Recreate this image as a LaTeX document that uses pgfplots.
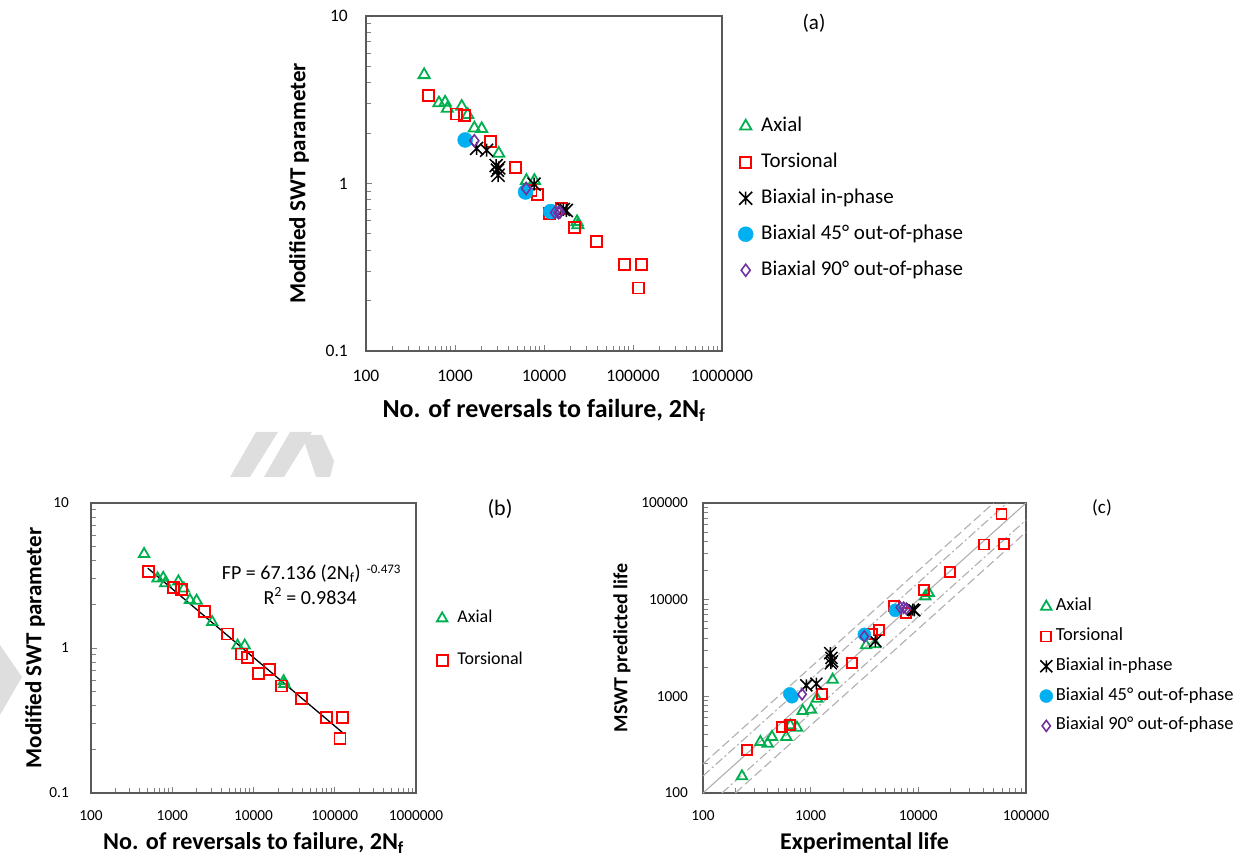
\documentclass[border=0pt]{standalone}
\usepackage{pgfplots}
\pgfplotsset{compat=1.18}
\usepackage{fontspec}
\setmainfont{Carlito}
\usetikzlibrary{plotmarks}

\definecolor{axgreen}{RGB}{0,176,80}
\definecolor{torred}{RGB}{255,0,0}
\definecolor{bxblue}{RGB}{0,176,240}
\definecolor{bxpurple}{RGB}{112,48,160}
\definecolor{framegray}{RGB}{89,89,89}
\definecolor{tickgray}{RGB}{128,128,128}
\definecolor{guidegray}{RGB}{175,175,175}
\definecolor{wmgray}{RGB}{222,222,222}

% Excel-style star: an x with a vertical stroke
\pgfdeclareplotmark{xstar}{%
  \pgfpathmoveto{\pgfqpoint{-\pgfplotmarksize}{-\pgfplotmarksize}}%
  \pgfpathlineto{\pgfqpoint{\pgfplotmarksize}{\pgfplotmarksize}}%
  \pgfpathmoveto{\pgfqpoint{-\pgfplotmarksize}{\pgfplotmarksize}}%
  \pgfpathlineto{\pgfqpoint{\pgfplotmarksize}{-\pgfplotmarksize}}%
  \pgfpathmoveto{\pgfqpoint{0pt}{-\pgfplotmarksize}}%
  \pgfpathlineto{\pgfqpoint{0pt}{\pgfplotmarksize}}%
  \pgfusepathqstroke}

\pgfplotsset{
  only mark legend/.style={legend image code/.code={%
    \draw[mark repeat=2,mark phase=2,##1] plot coordinates {(0pt,0pt) (7pt,0pt) (14pt,0pt)};}},
  myframe/.style={
    scale only axis,
    axis line style={framegray, line width=1.2pt},
    tick style={tickgray, line width=0.9pt},
    major tick length=6pt, minor tick length=5pt,
    tick align=inside, xtick pos=bottom, ytick pos=left,
    clip=false,
  },
  lifeaxis/.style={
    xmin=100, xmax=1000000, ymin=0.1, ymax=10,
    xtick={100,1000,10000,100000,1000000},
    xticklabels={100,1000,10000,100000,1000000},
    minor xtick={200,300,400,500,600,700,800,900,2000,3000,4000,5000,6000,7000,8000,9000,20000,30000,40000,50000,60000,70000,80000,90000,200000,300000,400000,500000,600000,700000,800000,900000},
    ytick={0.1,1,10}, yticklabels={0.1,1,10},
    minor ytick={0.2,0.3,0.4,0.5,0.6,0.7,0.8,0.9,2,3,4,5,6,7,8,9},
  },
  axialS/.style={only marks, color=axgreen, mark=triangle, mark size=#1,
    mark options={draw=axgreen, fill=none, line width=1.8pt}},
  torS/.style={only marks, color=torred, mark=square, mark size=#1,
    mark options={draw=torred, fill=none, line width=1.8pt}},
  inphS/.style={only marks, color=black, mark=xstar, mark size=#1,
    mark options={draw=black, line width=1.5pt}},
  bfS/.style={only marks, color=bxblue, mark=*, mark size=#1,
    mark options={draw=bxblue, fill=bxblue}},
  bnS/.style={only marks, color=bxpurple, mark=diamond, mark size=#1,
    mark options={draw=bxpurple, fill=none, line width=1.6pt}},
}

% ---------- data: modified SWT parameter vs reversals ----------
\pgfplotstableread{
N     P
450   4.45
660   3.02
775   3.05
820   2.80
1190  2.88
1390  2.57
1650  2.14
1995  2.12
3100  1.51
6350  1.04
7800  1.04
23500 0.59
24000 0.565
}\axialSWT
\pgfplotstableread{
N      P
505    3.36
1040   2.60
1285   2.54
2480   1.79
4750   1.25
7160   0.91
8450   0.855
11600  0.665
15700  0.71
22000  0.547
39100  0.45
80000  0.33
125000 0.33
116000 0.238
}\torSWT
\pgfplotstableread{
N     P
1750  1.62
2270  1.58
2900  1.28
3000  1.20
3050  1.12
3100  1.24
7730  0.99
16500 0.70
17800 0.69
}\inphSWT
\pgfplotstableread{
N     P
1300  1.82
6200  0.89
11900 0.68
}\bfSWT
\pgfplotstableread{
N     P
1650  1.80
6300  0.935
13300 0.67
14500 0.67
15100 0.675
}\bnSWT

% ---------- data: predicted vs experimental life ----------
\pgfplotstableread{
E     M
230   149
341   337
398   324
437   380
594   380
647   501
746   474
843   705
1007  727
1145  946
1600  1486
3266  3371
3985  3450
11600 10810
12500 11720
}\axialLife
\pgfplotstableread{
E     M
256   281
542   482
638   509
1274  1049
2419  2213
3700  4450
4344  4900
5900  8530
7740  7280
11220 12680
19800 19300
40400 37300
59300 76700
62400 37600
}\torLife
\pgfplotstableread{
E    M
912  1300
1130 1352
1520 2800
1560 2500
1580 2300
1540 2200
3985 3730
9180 7760
8900 7900
}\inphLife
\pgfplotstableread{
E    M
640  1060
670  990
3150 4375
6110 7760
}\bfLife
\pgfplotstableread{
E    M
832  1050
3150 4170
6800 8300
7310 8260
7740 8070
}\bnLife

\begin{document}
\begin{tikzpicture}[x=1pt,y=1pt]
\useasboundingbox (0,0) rectangle (1238,857);

% faint watermark fragments
\fill[wmgray] (256,425) -- (278,425) -- (250,380) -- (230,380) -- cycle;
\fill[wmgray] (290,425) -- (312,425) -- (284,380) -- (264,380) -- cycle;
\fill[wmgray] (302,422) -- (322,422) -- (334,396) -- (330,380) -- (316,380) -- cycle;
\fill[wmgray] (0,212) -- (22,180) -- (0,142) -- cycle;

% ================= (a) =================
\begin{axis}[xmode=log, ymode=log, myframe, lifeaxis,
  at={(366pt,506pt)}, anchor=south west, width=356pt, height=335pt,
  xticklabel style={font=\fontsize{17.5}{21}\selectfont, inner sep=0pt, anchor=north, yshift=-19pt},
  yticklabel style={font=\fontsize{17.5}{21}\selectfont, inner sep=0pt, anchor=east, xshift=-18pt},
  xlabel={No. of reversals to failure, 2N\textsubscript{f}},
  ylabel={Modified SWT parameter},
  xlabel style={font=\fontsize{26}{30}\bfseries, at={(axis description cs:0.5,-0.176)}, anchor=center},
  ylabel style={font=\fontsize{23}{27}\bfseries, at={(axis description cs:-0.188,0.5)}, anchor=center},
  legend style={at={(axis description cs:1.045,0.456)}, anchor=west, draw=none, fill=none,
    inner sep=0pt, font=\fontsize{21}{25}\selectfont, row sep=18pt, column sep=8pt,
    nodes={inner sep=0pt, text height=14pt, text depth=4pt}},
  legend cell align=left,
]
\addplot[axialS=6.5pt] table[x=N,y=P] {\axialSWT};
\addlegendentry{Axial}
\addplot[torS=5.5pt] table[x=N,y=P] {\torSWT};
\addlegendentry{Torsional}
\addplot[inphS=6.5pt] table[x=N,y=P] {\inphSWT};
\addlegendentry{Biaxial in-phase}
\addplot[bfS=7.5pt] table[x=N,y=P] {\bfSWT};
\addlegendentry{Biaxial 45° out-of-phase}
\addplot[bnS=6pt] table[x=N,y=P] {\bnSWT};
\addlegendentry{Biaxial 90° out-of-phase}
\end{axis}
\node[font=\fontsize{21}{25}\selectfont] at (814,834) {(a)};

% ================= (b) =================
\begin{axis}[xmode=log, ymode=log, myframe, lifeaxis,
  at={(91pt,64pt)}, anchor=south west, width=325pt, height=290pt,
  xticklabel style={font=\fontsize{15.3}{18}\selectfont, inner sep=0pt, anchor=north, yshift=-17pt},
  yticklabel style={font=\fontsize{15.3}{18}\selectfont, inner sep=0pt, anchor=east, xshift=-22pt},
  xlabel={No. of reversals to failure, 2N\textsubscript{f}},
  ylabel={Modified SWT parameter},
  xlabel style={font=\fontsize{24.2}{28}\bfseries, at={(axis description cs:0.5,-0.172)}, anchor=center},
  ylabel style={font=\fontsize{23}{27}\bfseries, at={(axis description cs:-0.172,0.5)}, anchor=center},
  legend style={at={(axis description cs:1.063,0.529)}, anchor=west, draw=none, fill=none,
    inner sep=0pt, font=\fontsize{18}{22}\selectfont, row sep=26.4pt, column sep=9.7pt,
    nodes={inner sep=0pt, text height=12pt, text depth=4pt}},
  legend cell align=left,
]
\addplot[axialS=6pt] table[x=N,y=P] {\axialSWT};
\addlegendentry{Axial}
\addplot[torS=5.5pt] table[x=N,y=P] {\torSWT};
\addlegendentry{Torsional}
% power-law fit FP = 67.136 (2Nf)^-0.473
\addplot[black, line width=1.3pt, forget plot] coordinates {(500,3.551) (125000,0.2607)};
\end{axis}
\node[font=\fontsize{20}{24}\selectfont, inner sep=0pt, anchor=base west] at (221.7,277.7) {FP = 67.136 (2N\textsubscript{f})};
\node[font=\fontsize{13}{15}\selectfont, inner sep=0pt, anchor=base west] at (366.7,283.7) {-0.473};
\node[font=\fontsize{20}{24}\selectfont, inner sep=0pt, anchor=base west] at (263.3,253) {R\textsuperscript{2} = 0.9834};
\node[font=\fontsize{22}{26}\selectfont] at (500,348) {(b)};

% ================= (c) =================
\begin{axis}[xmode=log, ymode=log, myframe,
  at={(703pt,64pt)}, anchor=south west, width=323pt, height=290pt,
  xmin=100, xmax=100000, ymin=100, ymax=100000,
  xtick={100,1000,10000,100000}, xticklabels={100,1000,10000,100000},
  ytick={100,1000,10000,100000}, yticklabels={100,1000,10000,100000},
  minor xtick={200,300,400,500,600,700,800,900,2000,3000,4000,5000,6000,7000,8000,9000,20000,30000,40000,50000,60000,70000,80000,90000},
  minor ytick={200,300,400,500,600,700,800,900,2000,3000,4000,5000,6000,7000,8000,9000,20000,30000,40000,50000,60000,70000,80000,90000},
  xticklabel style={font=\fontsize{15.3}{18}\selectfont, inner sep=0pt, anchor=north, yshift=-17pt},
  yticklabel style={font=\fontsize{15.3}{18}\selectfont, inner sep=0pt, anchor=east, xshift=-15pt},
  xlabel={Experimental life},
  ylabel={MSWT predicted life},
  xlabel style={font=\fontsize{24}{28}\bfseries, at={(axis description cs:0.5,-0.172)}, anchor=center},
  ylabel style={font=\fontsize{20}{24}\bfseries, at={(axis description cs:-0.251,0.5)}, anchor=center},
  legend style={at={(axis description cs:1.042,0.437)}, anchor=west, draw=none, fill=none,
    inner sep=0pt, font=\fontsize{18.5}{22}\selectfont, row sep=13.8pt, column sep=3pt,
    nodes={inner sep=0pt, text height=12pt, text depth=4pt}},
  legend cell align=left,
]
% scatter bands: 1:1, factor 1.5 and factor 2
\addplot[guidegray, line width=1.1pt, forget plot] coordinates {(100,100) (100000,100000)};
\addplot[guidegray, line width=1.1pt, dash pattern=on 9pt off 3pt on 2pt off 3pt, forget plot] coordinates {(100,150) (66667,100000)};
\addplot[guidegray, line width=1.1pt, dash pattern=on 9pt off 3pt on 2pt off 3pt, forget plot] coordinates {(150,100) (100000,66667)};
\addplot[guidegray, line width=1.1pt, dash pattern=on 9pt off 4pt, forget plot] coordinates {(100,200) (50000,100000)};
\addplot[guidegray, line width=1.1pt, dash pattern=on 9pt off 4pt, forget plot] coordinates {(200,100) (100000,50000)};
\addplot[axialS=6pt] table[x=E,y=M] {\axialLife};
\addlegendentry{Axial}
\addplot[torS=5pt] table[x=E,y=M] {\torLife};
\addlegendentry{Torsional}
\addplot[inphS=6pt] table[x=E,y=M] {\inphLife};
\addlegendentry{Biaxial in-phase}
\addplot[bfS=6.5pt] table[x=E,y=M] {\bfLife};
\addlegendentry{Biaxial 45° out-of-phase}
\addplot[bnS=5.5pt] table[x=E,y=M] {\bnLife};
\addlegendentry{Biaxial 90° out-of-phase}
\end{axis}
\node[font=\fontsize{19}{23}\selectfont] at (1102,349) {(c)};
\end{tikzpicture}
\end{document}
